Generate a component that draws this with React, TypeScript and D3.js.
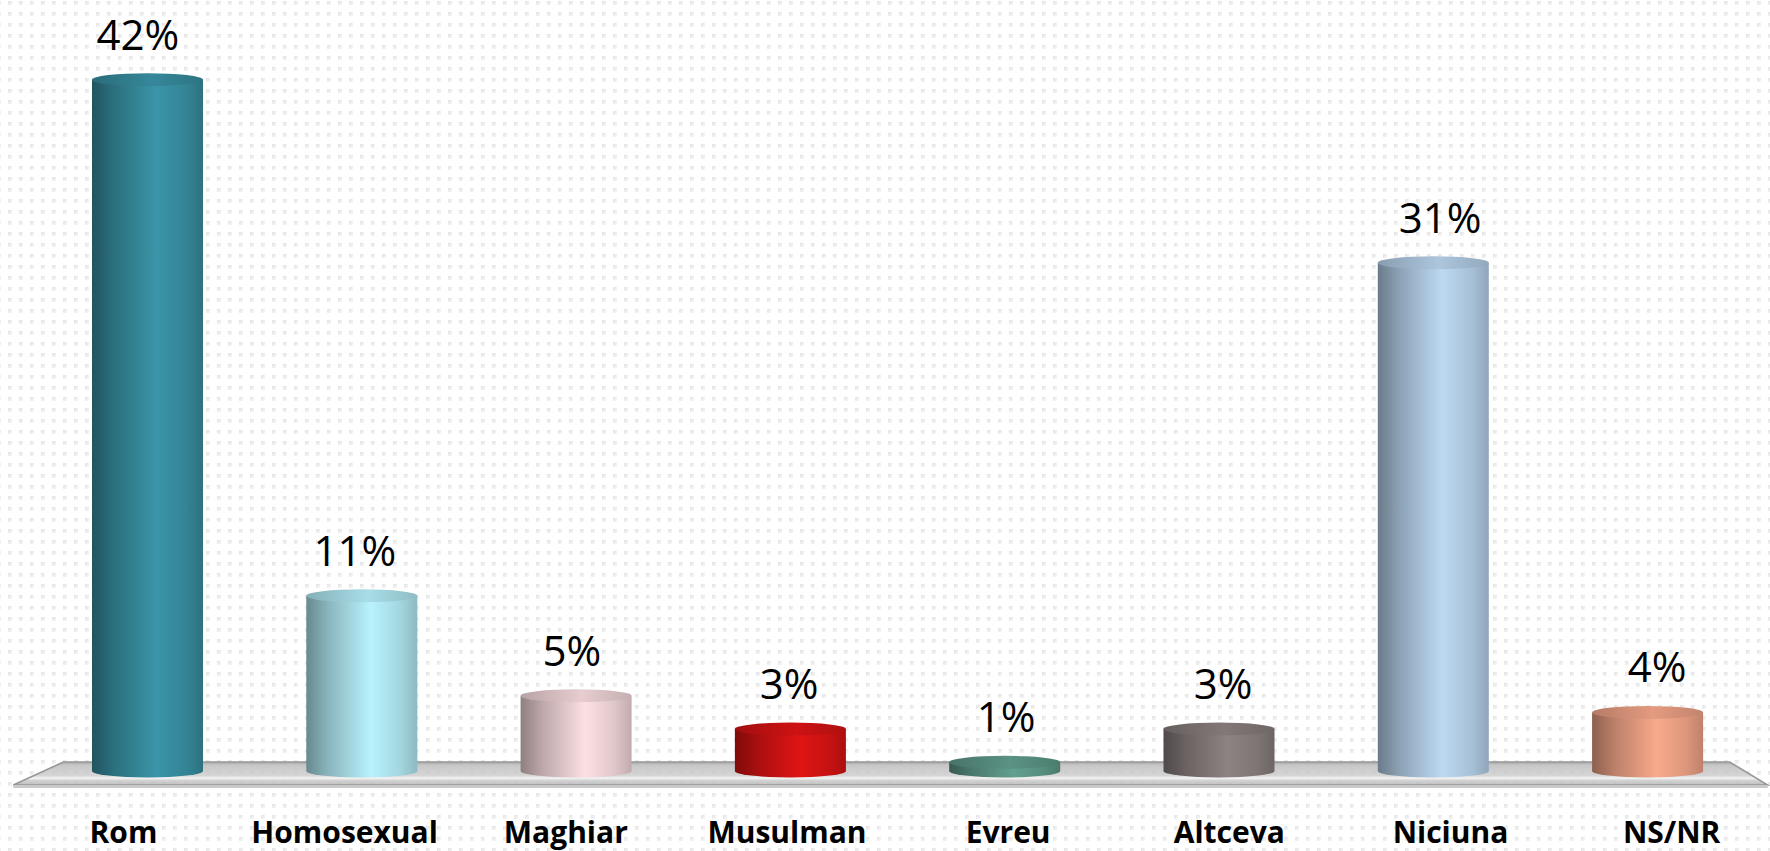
import React from "react";
import * as d3 from "d3";

const categories = ["Rom", "Homosexual", "Maghiar", "Musulman", "Evreu", "Altceva", "Niciuna", "NS/NR"];
const values = [42, 11, 5, 3, 1, 3, 31, 4];
const valueLabels = ["42%", "11%", "5%", "3%", "1%", "3%", "31%", "4%"];
const highlights = ["#3a95a8", "#b8f2fd", "#fde0e3", "#e01414", "#62a08f", "#8e8383", "#bcd9f2", "#f9aa8c"];

const W = 1770;
const H = 851;
const X0 = 40.35;
const X1 = 1754.75;
const Y0 = 779;
const YTOP = 29.75;

export default function App() {
  const x = d3.scaleBand<string>().domain(categories).range([X0, X1]).paddingInner(0.482).paddingOuter(0.241);
  const y = d3.scaleLinear().domain([0, 45]).range([Y0, YTOP]);
  // perspective projections for texts (front labels spread slightly wider)
  const xFront = d3.scaleLinear().domain([X0, X1]).range([X0 - 27.5, X1 + 27.5]);
  const xVal = d3.scaleLinear().domain([X0, X1]).range([X0 - 11, X1 + 11]);
  const bw = x.bandwidth();
  const rx = bw / 2;
  const ry = 6.5;
  const baseY = y(0) - 8;

  const floorTop = y(0) - 17;
  const floorBot = y(0) + 6;
  const floorPts = [
    [X0 + 23, floorTop],
    [X1 - 25, floorTop],
    [X1 + 13, floorBot],
    [X0 - 27, floorBot],
  ];
  const floorPath = d3.line()(floorPts as [number, number][]) + "Z";

  return (
    <svg width={W} height={H} style={{ position: "absolute", left: 0, top: 0, display: "block", background: "#fff" }}>
      <defs>
        <linearGradient id="dotGrad" x1="0" y1="0" x2="1" y2="1">
          <stop offset="0" stopColor="#e2e2e2" />
          <stop offset="1" stopColor="#f7f7f7" />
        </linearGradient>
        <pattern id="dots" width={11} height={11} patternUnits="userSpaceOnUse" x={8} y={1}>
          <rect x={0} y={0} width={4} height={4} fill="url(#dotGrad)" />
        </pattern>
        <linearGradient id="floorGrad" x1="0" y1="0" x2="0" y2="1">
          <stop offset="0" stopColor="#a0a0a0" />
          <stop offset="0.15" stopColor="#bdbdbd" />
          <stop offset="0.6" stopColor="#cfcfcf" />
          <stop offset="0.7" stopColor="#f4f4f4" />
          <stop offset="0.8" stopColor="#cbcbcb" />
          <stop offset="1" stopColor="#b5b5b5" />
        </linearGradient>
        {categories.map((c, i) => {
          const h = d3.color(highlights[i])!;
          return (
            <React.Fragment key={c}>
              <linearGradient id={`side${i}`} x1="0" y1="0" x2="1" y2="0">
                <stop offset="0" stopColor={h.darker(1.6).formatHex()} />
                <stop offset="0.2" stopColor={h.darker(0.8).formatHex()} />
                <stop offset="0.58" stopColor={h.formatHex()} />
                <stop offset="0.85" stopColor={h.darker(0.35).formatHex()} />
                <stop offset="1" stopColor={h.darker(0.75).formatHex()} />
              </linearGradient>
              <linearGradient id={`top${i}`} x1="0" y1="0" x2="1" y2="0">
                <stop offset="0" stopColor={h.darker(0.9).formatHex()} />
                <stop offset="0.55" stopColor={h.darker(0.25).formatHex()} />
                <stop offset="1" stopColor={h.darker(0.7).formatHex()} />
              </linearGradient>
            </React.Fragment>
          );
        })}
      </defs>
      <rect x={0} y={0} width={W} height={H} fill="url(#dots)" />

      <path d={floorPath} fill="url(#floorGrad)" fillOpacity={0.85} stroke="#969696" strokeWidth={1.5} />
      <rect x={X0 - 27} y={floorBot} width={X1 + 13 - (X0 - 27)} height={3} fill="#c9c9c9" />

      {categories.map((c, i) => {
        const left = x(c)!;
        const right = left + bw;
        const cx = left + rx;
        const top = y(values[i]);
        const d = `M${left},${top} L${left},${baseY} A${rx},${ry} 0 0 0 ${right},${baseY} L${right},${top} Z`;
        return (
          <g key={c}>
            <path d={d} fill={`url(#side${i})`} />
            <ellipse cx={cx} cy={top} rx={rx} ry={ry} fill={`url(#top${i})`} />
            <text
              x={xVal(cx)}
              y={top - 30}
              textAnchor="middle"
              fontFamily="'Open Sans', sans-serif"
              fontSize={42}
              fill="#000"
            >
              {valueLabels[i]}
            </text>
            <text
              x={xFront(cx)}
              y={843}
              textAnchor="middle"
              fontFamily="'Open Sans', sans-serif"
              fontWeight="bold"
              fontSize={30}
              fill="#000"
            >
              {c}
            </text>
          </g>
        );
      })}
    </svg>
  );
}
